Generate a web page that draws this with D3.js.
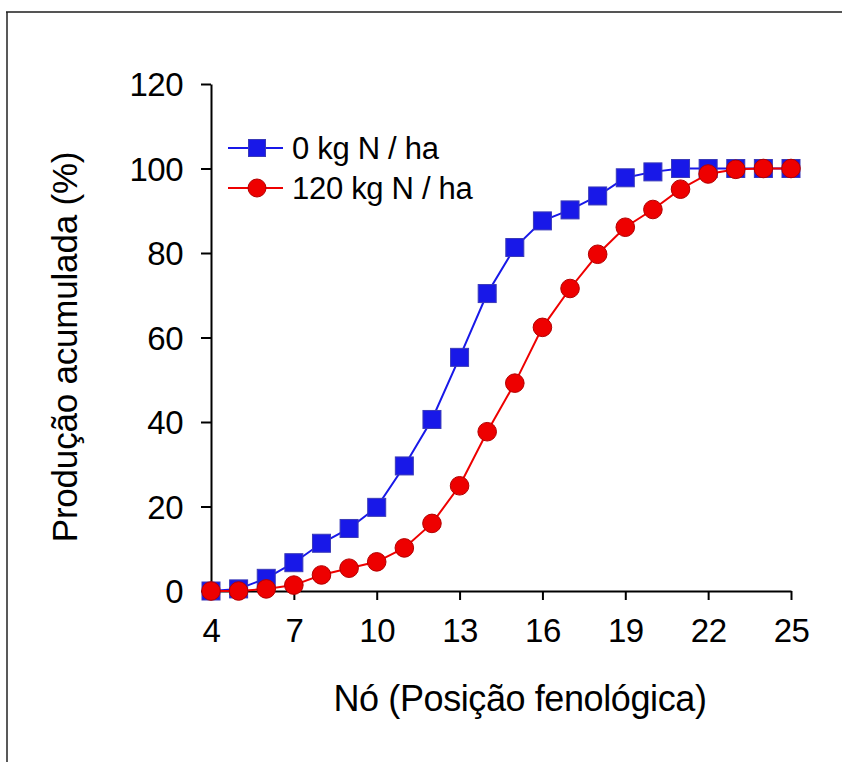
<!DOCTYPE html>
<html>
<head>
<meta charset="utf-8">
<script src="https://cdn.jsdelivr.net/npm/d3@7"></script>
<style>
  html, body { margin: 0; padding: 0; background: #fff; }
  svg { display: block; }
  text { font-family: "Liberation Sans", Arial, Helvetica, sans-serif; fill: #000; }
</style>
</head>
<body>
<svg id="chart" width="842" height="762"></svg>
<script>
const nodes = [4,5,6,7,8,9,10,11,12,13,14,15,16,17,18,19,20,21,22,23,24,25];
const n0 = [0,0.5,3,6.7,11.3,14.8,19.8,29.6,40.6,55.3,70.4,81.3,87.6,90.2,93.5,97.8,99.2,100,100,100,100,100];
const n120 = [0,0,0.5,1.4,3.8,5.4,6.9,10.2,16.0,24.9,37.7,49.2,62.4,71.6,79.7,86.1,90.3,95.1,98.7,99.8,100,100];
const xTicks = [4,7,10,13,16,19,22,25];
const yTicks = [0,20,40,60,80,100,120];
const seriesNames = ["0 kg N / ha", "120 kg N / ha"];
const xTitle = "Nó (Posição fenológica)";
const yTitle = "Produção acumulada (%)";

const svg = d3.select("#chart");

// outer frame (top and left edges)
svg.append("line").attr("x1", 6).attr("x2", 842).attr("y1", 12).attr("y2", 12)
  .attr("stroke", "#555").attr("stroke-width", 2);
svg.append("line").attr("x1", 7).attr("x2", 7).attr("y1", 12).attr("y2", 762)
  .attr("stroke", "#222").attr("stroke-width", 1.5);

const x = d3.scaleLinear().domain([4, 25]).range([211, 791]);
const y = d3.scaleLinear().domain([0, 120]).range([591, 84]);

const xAxis = svg.append("g").attr("transform", `translate(0,${y(0)})`)
  .call(d3.axisBottom(x).tickValues(xTicks).tickSize(9).tickPadding(19).tickSizeOuter(0));
const yAxis = svg.append("g").attr("transform", `translate(${x(4)},0)`)
  .call(d3.axisLeft(y).tickValues(yTicks).tickSize(10).tickPadding(18).tickSizeOuter(0));
[xAxis, yAxis].forEach(g => {
  g.selectAll("path.domain").attr("stroke", "#000").attr("stroke-width", 2);
  g.selectAll(".tick line").attr("stroke", "#000").attr("stroke-width", 2);
  g.selectAll(".tick text").attr("font-size", 33).attr("font-family", "Liberation Sans, Arial, sans-serif")
    .attr("letter-spacing", -0.5).attr("fill", "#000");
});
xAxis.selectAll(".tick text").attr("dy", "0.71em");
yAxis.selectAll(".tick text").attr("dy", "0.36em");

// titles
svg.append("text").attr("x", 520).attr("y", 711).attr("text-anchor", "middle")
  .attr("font-size", 36).attr("letter-spacing", -0.4).text(xTitle);
svg.append("text").attr("transform", `translate(77,${347}) rotate(-90)`)
  .attr("text-anchor", "middle").attr("font-size", 35).attr("letter-spacing", -0.2).text(yTitle);

const blue = "#1818e8", blueEdge = "#3a3ab8";
const red = "#ee0000", redEdge = "#b30000";

const line = d3.line().x(d => x(d[0])).y(d => y(d[1]));
const d0 = nodes.map((n, i) => [n, n0[i]]);
const d120 = nodes.map((n, i) => [n, n120[i]]);

const S = 18;
svg.append("path").datum(d0).attr("d", line).attr("fill", "none").attr("stroke", blue).attr("stroke-width", 2);
svg.append("g").selectAll("rect").data(d0).join("rect")
  .attr("x", d => x(d[0]) - S/2).attr("y", d => y(d[1]) - S/2)
  .attr("width", S).attr("height", S)
  .attr("fill", blue).attr("stroke", blueEdge).attr("stroke-width", 1);

svg.append("path").datum(d120).attr("d", line).attr("fill", "none").attr("stroke", red).attr("stroke-width", 2);
svg.append("g").selectAll("circle").data(d120).join("circle")
  .attr("cx", d => x(d[0])).attr("cy", d => y(d[1])).attr("r", 9.3)
  .attr("fill", red).attr("stroke", redEdge).attr("stroke-width", 1);

// legend
const leg = svg.append("g");
const legY = [148, 188];
legY.forEach((ly, i) => {
  leg.append("line").attr("x1", 228).attr("x2", 283).attr("y1", ly).attr("y2", ly)
    .attr("stroke", i === 0 ? blue : red).attr("stroke-width", 2);
  if (i === 0) {
    leg.append("rect").attr("x", 257 - 8.5).attr("y", ly - 8.5).attr("width", 17).attr("height", 17)
      .attr("fill", blue).attr("stroke", blueEdge).attr("stroke-width", 1);
  } else {
    leg.append("circle").attr("cx", 257).attr("cy", ly).attr("r", 9)
      .attr("fill", red).attr("stroke", redEdge).attr("stroke-width", 1);
  }
  leg.append("text").attr("x", 292).attr("y", ly).attr("dy", "0.36em")
    .attr("font-size", 31).attr("letter-spacing", -0.3).text(seriesNames[i]);
});
</script>
</body>
</html>
